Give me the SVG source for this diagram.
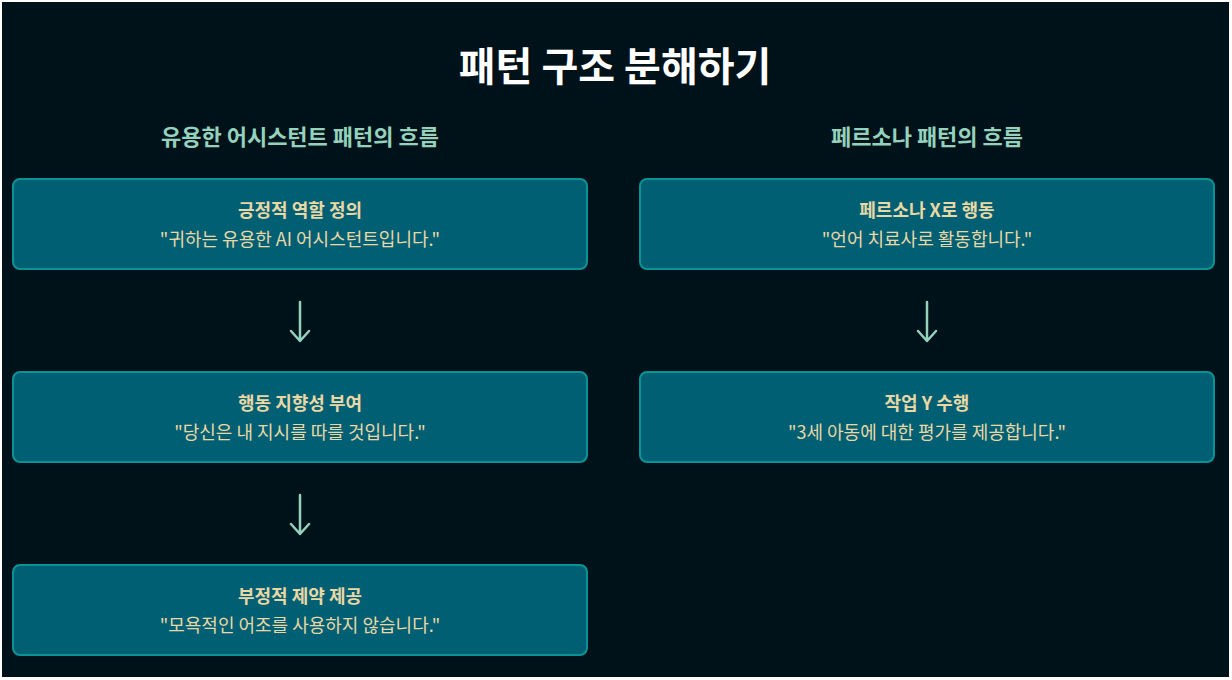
<svg xmlns="http://www.w3.org/2000/svg" width="1232" height="680" viewBox="0 0 1232 680">
<style>
text{font-family:"Noto Sans CJK KR","Noto Sans",sans-serif;text-anchor:middle}
.bg{fill:#001219}
.box{fill:#005f73;stroke:#0a9396;stroke-width:2}
.title{font-size:40px;font-weight:700;fill:#ffffff}
.sub{font-size:22px;font-weight:700;fill:#94d2bd}
.h{font-size:18px;font-weight:700;fill:#e9d8a6}
.q{font-size:18px;fill:#e9d8a6}
.arr{fill:none;stroke:#94d2bd;stroke-width:2.5;stroke-linecap:round;stroke-linejoin:round}
</style>
<rect width="1232" height="680" fill="#ffffff"/>
<rect class="bg" x="2" y="2" width="1227" height="675"/>
<text class="title" x="615" y="81">패턴 구조 분해하기</text>
<text class="sub" x="300" y="145">유용한 어시스턴트 패턴의 흐름</text>
<text class="sub" x="927" y="145">페르소나 패턴의 흐름</text>
<g id="connectors">
<path class="arr" d="M300 302V340M291 331L300 341L309 331"/>
<path class="arr" d="M300 495V533M291 524L300 534L309 524"/>
<path class="arr" d="M927 302V340M918 331L927 341L936 331"/>
</g>
<g id="n1"><rect class="box" x="13" y="179" width="574" height="90" rx="7"/><text class="h" x="300" y="217">긍정적 역할 정의</text><text class="q" x="300" y="246">"귀하는 유용한 AI 어시스턴트입니다."</text></g>
<g id="n2"><rect class="box" x="13" y="372" width="574" height="90" rx="7"/><text class="h" x="300" y="410">행동 지향성 부여</text><text class="q" x="300" y="439">"당신은 내 지시를 따를 것입니다."</text></g>
<g id="n3"><rect class="box" x="13" y="565" width="574" height="90" rx="7"/><text class="h" x="300" y="603">부정적 제약 제공</text><text class="q" x="300" y="632">"모욕적인 어조를 사용하지 않습니다."</text></g>
<g id="n4"><rect class="box" x="640" y="179" width="574" height="90" rx="7"/><text class="h" x="927" y="217">페르소나 X로 행동</text><text class="q" x="927" y="246">"언어 치료사로 활동합니다."</text></g>
<g id="n5"><rect class="box" x="640" y="372" width="574" height="90" rx="7"/><text class="h" x="927" y="410">작업 Y 수행</text><text class="q" x="927" y="439">"3세 아동에 대한 평가를 제공합니다."</text></g>
</svg>
